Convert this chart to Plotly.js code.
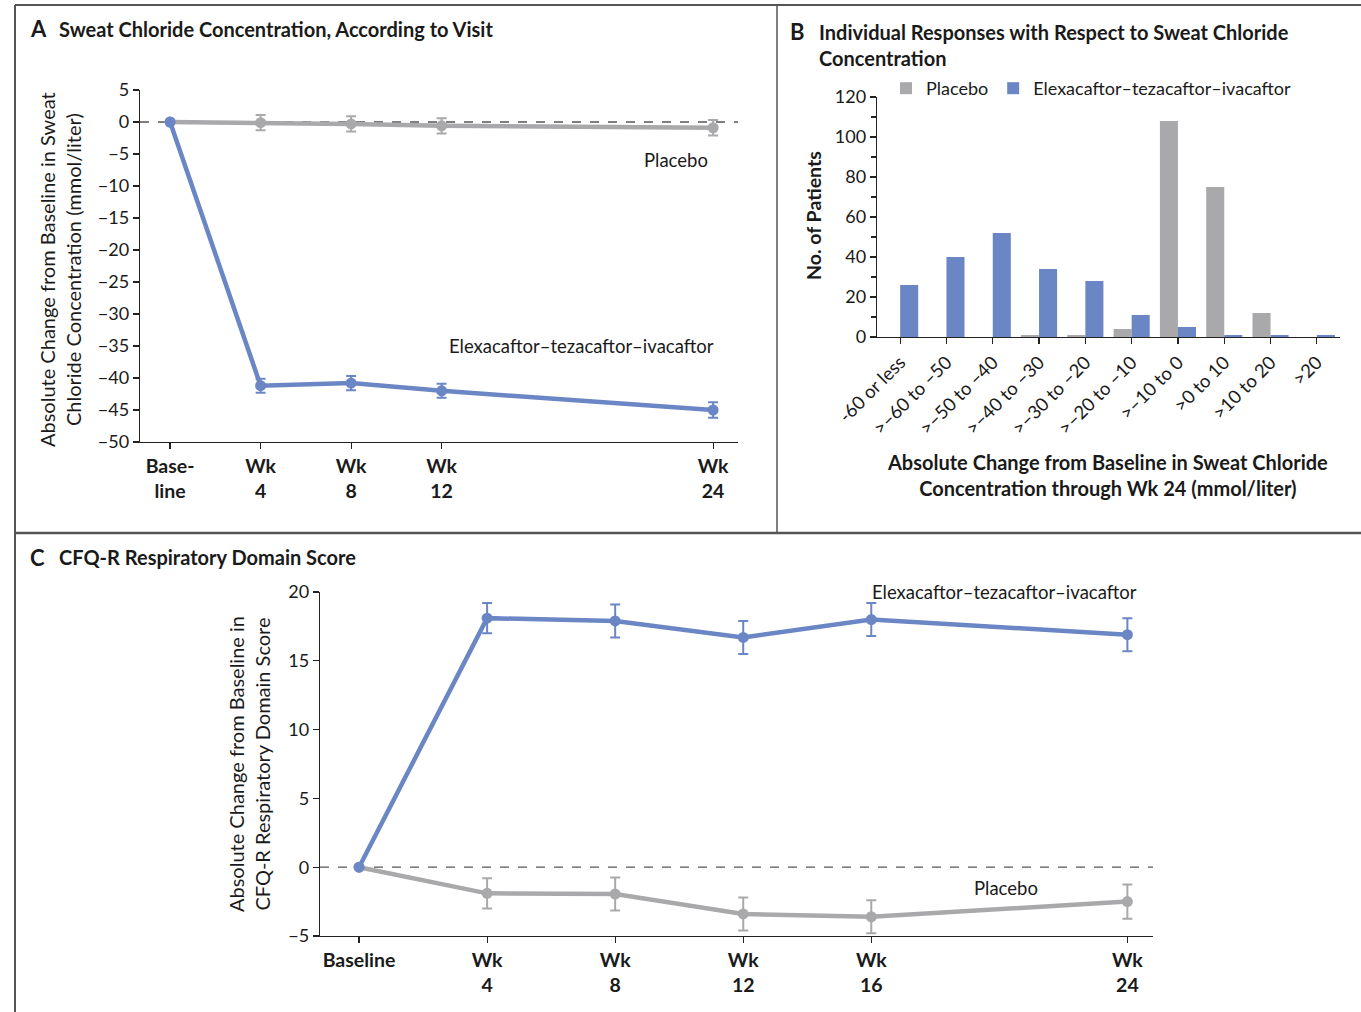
<!DOCTYPE html>
<html>
<head>
<meta charset="utf-8">
<script src="https://cdn.plot.ly/plotly-3.0.1.min.js"></script>
<style>html,body{margin:0;padding:0;background:#fff;}#chart{width:1361px;height:1012px;}</style>
</head>
<body>
<div id="chart"></div>
<script>
// ---------- DATA ----------
// Panel A: sweat chloride change (mmol/liter)
const weeksA = [0, 4, 8, 12, 24];
const weekLabelsA = ["Base-<br>line", "Wk<br>4", "Wk<br>8", "Wk<br>12", "Wk<br>24"];
const etiSweat = [0, -41.2, -40.8, -42.0, -45.0];
const etiSweatErr = [0, 1.1, 1.1, 1.1, 1.2];
const placeboSweat = [0, -0.1, -0.3, -0.6, -0.9];
const placeboSweatErr = [0, 1.2, 1.2, 1.2, 1.2];

// Panel B: individual responses
const responseBins = ["-60 or less", ">–60 to –50", ">–50 to –40", ">–40 to –30", ">–30 to –20",
  ">–20 to –10", ">–10 to 0", ">0 to 10", ">10 to 20", ">20"];
const placeboCounts = [0, 0, 0, 1, 1, 4, 108, 75, 12, 0];
const etiCounts = [26, 40, 52, 34, 28, 11, 5, 1, 1, 1];

// Panel C: CFQ-R respiratory domain score
const weeksC = [0, 4, 8, 12, 16, 24];
const weekLabelsC = ["Baseline", "Wk<br>4", "Wk<br>8", "Wk<br>12", "Wk<br>16", "Wk<br>24"];
const etiCfq = [0, 18.1, 17.9, 16.7, 18.0, 16.9];
const etiCfqErr = [0, 1.1, 1.2, 1.2, 1.2, 1.2];
const placeboCfq = [0, -1.9, -1.95, -3.4, -3.6, -2.5];
const placeboCfqErr = [0, 1.1, 1.2, 1.2, 1.2, 1.25];

// ---------- STYLE ----------
const W = 1361, H = 1012;
const px = x => x / W;
const py = y => 1 - y / H;
const BLUE = "#6b86c5";
const GREY = "#a9a9ab";
const FONT = "Lato, 'Open Sans', sans-serif";
const TXT = "#1a1a1a";

function bold(arr) { return arr.map(s => "<b>" + s + "</b>"); }

const lineTrace = (x, y, err, color, xa, ya) => ({
  type: "scatter", mode: "lines+markers", x: x, y: y, xaxis: xa, yaxis: ya,
  line: {color: color, width: 4.5},
  marker: {color: color, size: 11},
  error_y: {type: "data", array: err, color: color, thickness: 2, width: 5},
  showlegend: false, hoverinfo: "skip", cliponaxis: false
});

const traces = [
  lineTrace(weeksA, placeboSweat, placeboSweatErr, GREY, "x", "y"),
  lineTrace(weeksA, etiSweat, etiSweatErr, BLUE, "x", "y"),
  {type: "bar", name: "Placebo", x: responseBins, y: placeboCounts, xaxis: "x2", yaxis: "y2",
   marker: {color: GREY}, hoverinfo: "skip"},
  {type: "bar", name: "Elexacaftor–tezacaftor–ivacaftor", x: responseBins, y: etiCounts, xaxis: "x2", yaxis: "y2",
   marker: {color: BLUE}, hoverinfo: "skip"},
  lineTrace(weeksC, placeboCfq, placeboCfqErr, GREY, "x3", "y3"),
  lineTrace(weeksC, etiCfq, etiCfqErr, BLUE, "x3", "y3")
];

const axisBase = {
  showline: true, linecolor: "#222", linewidth: 1.3, showgrid: false, zeroline: false,
  ticks: "outside", ticklen: 6, tickwidth: 1.2, tickcolor: "#222",
  tickfont: {family: FONT, size: 18, color: TXT}, fixedrange: true
};

const layout = {
  width: W, height: H,
  margin: {l: 0, r: 0, t: 0, b: 0},
  paper_bgcolor: "#fff", plot_bgcolor: "rgba(0,0,0,0)",
  font: {family: FONT, color: TXT},
  barmode: "group", bargap: 0.22, bargroupgap: 0,
  showlegend: true,
  legend: {orientation: "h", x: px(886), y: py(70), xanchor: "left", yanchor: "top",
           font: {family: FONT, size: 18, color: TXT}, itemwidth: 30, traceorder: "normal",
           bgcolor: "rgba(0,0,0,0)"},
  xaxis: Object.assign({}, axisBase, {
    domain: [px(140), px(738)], anchor: "y", range: [-1.33, 25.1],
    tickvals: weeksA, ticktext: bold(weekLabelsA), tickfont: {family: FONT, size: 19.5, color: TXT}
  }),
  yaxis: Object.assign({}, axisBase, {
    domain: [py(442), py(90)], anchor: "x", range: [-50, 5], dtick: 5, tick0: 0
  }),
  xaxis2: Object.assign({}, axisBase, {
    domain: [px(877), px(1340)], anchor: "y2", type: "category", range: [-0.5, 9.5],
    tickangle: -45, tickfont: {family: FONT, size: 18.5, color: TXT}
  }),
  yaxis2: Object.assign({}, axisBase, {
    domain: [py(337), py(97)], anchor: "x2", range: [0, 120], dtick: 20,
    minor: {dtick: 10, ticks: "outside", ticklen: 5, tickcolor: "#222", tickwidth: 1.2}
  }),
  xaxis3: Object.assign({}, axisBase, {
    domain: [px(320), px(1153)], anchor: "y3", range: [-1.22, 24.8],
    tickvals: weeksC, ticktext: bold(weekLabelsC), tickfont: {family: FONT, size: 19.5, color: TXT}
  }),
  yaxis3: Object.assign({}, axisBase, {
    domain: [py(936), py(592)], anchor: "x3", range: [-5, 20], dtick: 5, tick0: 0
  }),
  shapes: [
    // dashed zero lines
    {type: "line", xref: "x domain", x0: 0, x1: 1, yref: "y", y0: 0, y1: 0, layer: "below",
     line: {color: "#555", width: 1.3, dash: "dash"}},
    {type: "line", xref: "x3 domain", x0: 0, x1: 1, yref: "y3", y0: 0, y1: 0, layer: "below",
     line: {color: "#555", width: 1.3, dash: "dash"}},
    // panel frame
    {type: "line", xref: "paper", yref: "paper", x0: px(15), x1: 1, y0: py(5), y1: py(5), line: {color: "#555", width: 2}},
    {type: "line", xref: "paper", yref: "paper", x0: px(15), x1: px(15), y0: py(5), y1: 0, line: {color: "#555", width: 2}},
    {type: "line", xref: "paper", yref: "paper", x0: px(777), x1: px(777), y0: py(5), y1: py(533), line: {color: "#555", width: 1.5}},
    {type: "line", xref: "paper", yref: "paper", x0: px(15), x1: 1, y0: py(533), y1: py(533), line: {color: "#555", width: 2.5}}
  ],
  annotations: [
    // panel titles
    {xref: "paper", yref: "paper", x: px(28), y: py(29), xanchor: "left", yanchor: "middle", showarrow: false,
     text: "<b>A</b>", font: {family: FONT, size: 22, color: TXT}},
    {xref: "paper", yref: "paper", x: px(57), y: py(29), xanchor: "left", yanchor: "middle", showarrow: false,
     text: "<b>Sweat Chloride Concentration, According to Visit</b>", font: {family: FONT, size: 20, color: TXT}},
    {xref: "paper", yref: "paper", x: px(788), y: py(31), xanchor: "left", yanchor: "middle", showarrow: false,
     text: "<b>B</b>", font: {family: FONT, size: 22, color: TXT}},
    {xref: "paper", yref: "paper", x: px(817), y: py(18), xanchor: "left", yanchor: "top", showarrow: false, align: "left",
     text: "<b>Individual Responses with Respect to Sweat Chloride<br>Concentration</b>", font: {family: FONT, size: 20, color: TXT}},
    {xref: "paper", yref: "paper", x: px(28), y: py(557), xanchor: "left", yanchor: "middle", showarrow: false,
     text: "<b>C</b>", font: {family: FONT, size: 22, color: TXT}},
    {xref: "paper", yref: "paper", x: px(57), y: py(557), xanchor: "left", yanchor: "middle", showarrow: false,
     text: "<b>CFQ-R Respiratory Domain Score</b>", font: {family: FONT, size: 20, color: TXT}},
    // axis titles
    {xref: "paper", yref: "paper", x: px(60), y: py(270), xanchor: "center", yanchor: "middle", showarrow: false,
     textangle: -90, text: "Absolute Change from Baseline in Sweat<br>Chloride Concentration (mmol/liter)",
     font: {family: FONT, size: 20, color: TXT}},
    {xref: "paper", yref: "paper", x: px(813), y: py(216), xanchor: "center", yanchor: "middle", showarrow: false,
     textangle: -90, text: "<b>No. of Patients</b>", font: {family: FONT, size: 19.5, color: TXT}},
    {xref: "paper", yref: "paper", x: px(1107), y: py(475), xanchor: "center", yanchor: "middle", showarrow: false,
     text: "<b>Absolute Change from Baseline in Sweat Chloride<br>Concentration through Wk 24 (mmol/liter)</b>",
     font: {family: FONT, size: 20, color: TXT}},
    {xref: "paper", yref: "paper", x: px(249), y: py(764), xanchor: "center", yanchor: "middle", showarrow: false,
     textangle: -90, text: "Absolute Change from Baseline in<br>CFQ-R Respiratory Domain Score",
     font: {family: FONT, size: 20, color: TXT}},
    // series labels
    {xref: "paper", yref: "paper", x: px(676), y: py(160), xanchor: "center", yanchor: "middle", showarrow: false,
     text: "Placebo", font: {family: FONT, size: 18.5, color: TXT}},
    {xref: "paper", yref: "paper", x: px(581), y: py(346), xanchor: "center", yanchor: "middle", showarrow: false,
     text: "Elexacaftor–tezacaftor–ivacaftor", font: {family: FONT, size: 18.5, color: TXT}},
    {xref: "paper", yref: "paper", x: px(1005), y: py(592), xanchor: "center", yanchor: "middle", showarrow: false,
     text: "Elexacaftor–tezacaftor–ivacaftor", font: {family: FONT, size: 18.5, color: TXT}},
    {xref: "paper", yref: "paper", x: px(1006), y: py(888), xanchor: "center", yanchor: "middle", showarrow: false,
     text: "Placebo", font: {family: FONT, size: 18.5, color: TXT}}
  ]
};

Plotly.newPlot("chart", traces, layout, {displayModeBar: false, staticPlot: true});
</script>
</body>
</html>
